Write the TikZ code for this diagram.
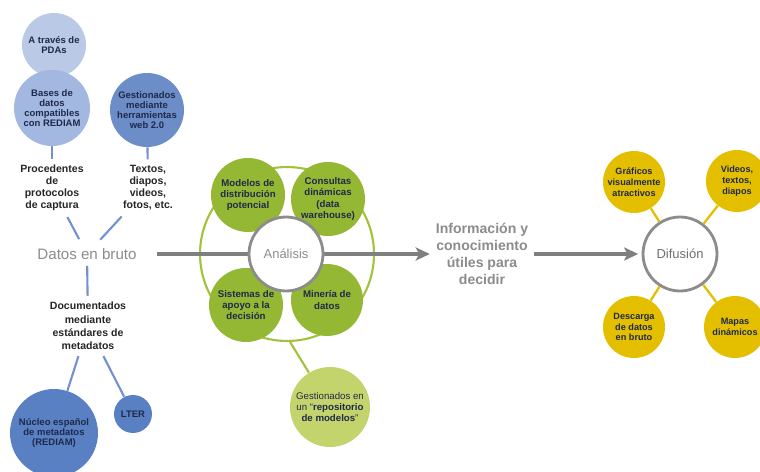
\documentclass[tikz,border=0pt]{standalone}
\usepackage{fontspec}
\setmainfont{Liberation Sans}
\usetikzlibrary{arrows.meta}
\definecolor{paleblue}{HTML}{B9C9E6}
\definecolor{softblue}{HTML}{A3B8E0}
\definecolor{midblue}{HTML}{6C8DC8}
\definecolor{deepblue}{HTML}{5A80C4}
\definecolor{lineblue}{HTML}{7391D0}
\definecolor{leaf}{HTML}{94B734}
\definecolor{paleleaf}{HTML}{C4D46C}
\definecolor{ringleaf}{HTML}{A2C23E}
\definecolor{gold}{HTML}{E4BF00}
\definecolor{ink}{HTML}{1F2A4A}
\definecolor{ash}{HTML}{8C8C8C}
\definecolor{arrowgray}{HTML}{7F7F7F}
\tikzset{
 bubble/.style={circle,inner sep=0pt,align=center,text=ink,font=\bfseries\fontsize{5.4}{5.7}\selectfont},
 leafbubble/.style={bubble,fill=leaf,minimum size=1.48cm,font=\bfseries\fontsize{5.5}{6.4}\selectfont},
 goldbubble/.style={bubble,fill=gold,minimum size=1.24cm,font=\bfseries\fontsize{5.2}{6.2}\selectfont},
 hub/.style={circle,fill=white,draw=ash,line width=1.6pt,minimum size=1.48cm,inner sep=0pt,font=\fontsize{7.4}{8}\selectfont},
 note/.style={align=center,text=black!85,font=\bfseries\fontsize{6}{6.8}\selectfont},
 blueline/.style={draw=lineblue,line width=1.2pt},
 goldline/.style={draw=gold,line width=1.3pt},
 flow/.style={draw=arrowgray,line width=2pt,-{Stealth[length=8pt,width=7.5pt,inset=2pt]}}
}
\begin{document}
\begin{tikzpicture}[x=0.02cm,y=-0.02cm]
\useasboundingbox[fill=white] (0,0) rectangle (760,472);
\node[bubble,fill=paleblue,minimum size=1.28cm] (pdas) at (54,45) {A través de\\PDAs};
\node[bubble,fill=softblue,minimum size=1.52cm] (bases) at (52,108) {Bases de\\datos\\compatibles\\con REDIAM};
\node[bubble,fill=midblue,minimum size=1.48cm] (web) at (147,110) {Gestionados\\mediante\\herramientas\\web 2.0};
\node[note] (proc) at (52,188) {Procedentes\\de\\protocolos\\de captura};
\node[note] (textos) at (148,188) {Textos,\\diapos,\\videos,\\fotos, etc.};
\node[text=ash,font=\fontsize{8.6}{9}\selectfont] (datos) at (87,254) {Datos en bruto};
\node[note,font=\bfseries\fontsize{6}{7.6}\selectfont] (doc) at (88,326) {Documentados\\mediante\\estándares de\\metadatos};
\node[bubble,fill=deepblue,minimum size=1.76cm] (nucleo) at (54,433) {Núcleo español\\de metadatos\\(REDIAM)};
\node[bubble,fill=deepblue,minimum size=0.76cm] (lter) at (133,414) {LTER};
\draw[blueline] (bases) -- (proc);
\draw[blueline] (web) -- (textos);
\draw[blueline,shorten >=2pt] (proc) -- (datos);
\draw[blueline,shorten >=2pt] (textos) -- (datos);
\draw[blueline] (datos) -- (doc);
\draw[blueline] (doc) -- (nucleo);
\draw[blueline] (doc) -- (lter);
\node[align=center,text=ash,font=\bfseries\fontsize{8}{9.6}\selectfont] (info) at (482,254) {Información y\\conocimiento\\útiles para\\decidir};
\node[circle,draw=ringleaf,line width=1.2pt,minimum size=3.48cm] (anillo) at (287,254) {};
\node[bubble,fill=paleleaf,minimum size=1.6cm,font=\fontsize{5.5}{6.3}\selectfont] (repo) at (330,407) {Gestionados en\\un “\textbf{repositorio}\\\textbf{de modelos}”};
\draw[draw=ringleaf,line width=1.2pt] (anillo.-88) -- (repo);
\node[hub,text=ash!80!black] (difusion) at (680,254) {Difusión};
\node[goldbubble] (graficos) at (634,182) {Gráficos\\visualmente\\atractivos};
\node[goldbubble] (videos) at (737,181) {Videos,\\textos,\\diapos};
\node[goldbubble] (descarga) at (634,327) {Descarga\\de datos\\en bruto};
\node[goldbubble] (mapas) at (735,327) {Mapas\\dinámicos};
\draw[goldline] (graficos) -- (difusion);
\draw[goldline] (videos) -- (difusion);
\draw[goldline] (descarga) -- (difusion);
\draw[goldline] (mapas) -- (difusion);
\draw[flow,shorten <=8pt] (datos) -- (info);
\draw[flow,shorten >=2pt] (info) -- (difusion);
\node[leafbubble] (modelos) at (248,195) {Modelos de\\distribución\\potencial};
\node[leafbubble] (consultas) at (328,199) {Consultas\\dinámicas\\(data\\warehouse)};
\node[leafbubble] (sistemas) at (246,305) {Sistemas de\\apoyo a la\\decisión};
\node[leafbubble,minimum size=1.44cm] (mineria) at (327,300) {Minería de\\datos};
\node[hub,text=ash] (analisis) at (286,254) {Análisis};
\end{tikzpicture}
\end{document}
